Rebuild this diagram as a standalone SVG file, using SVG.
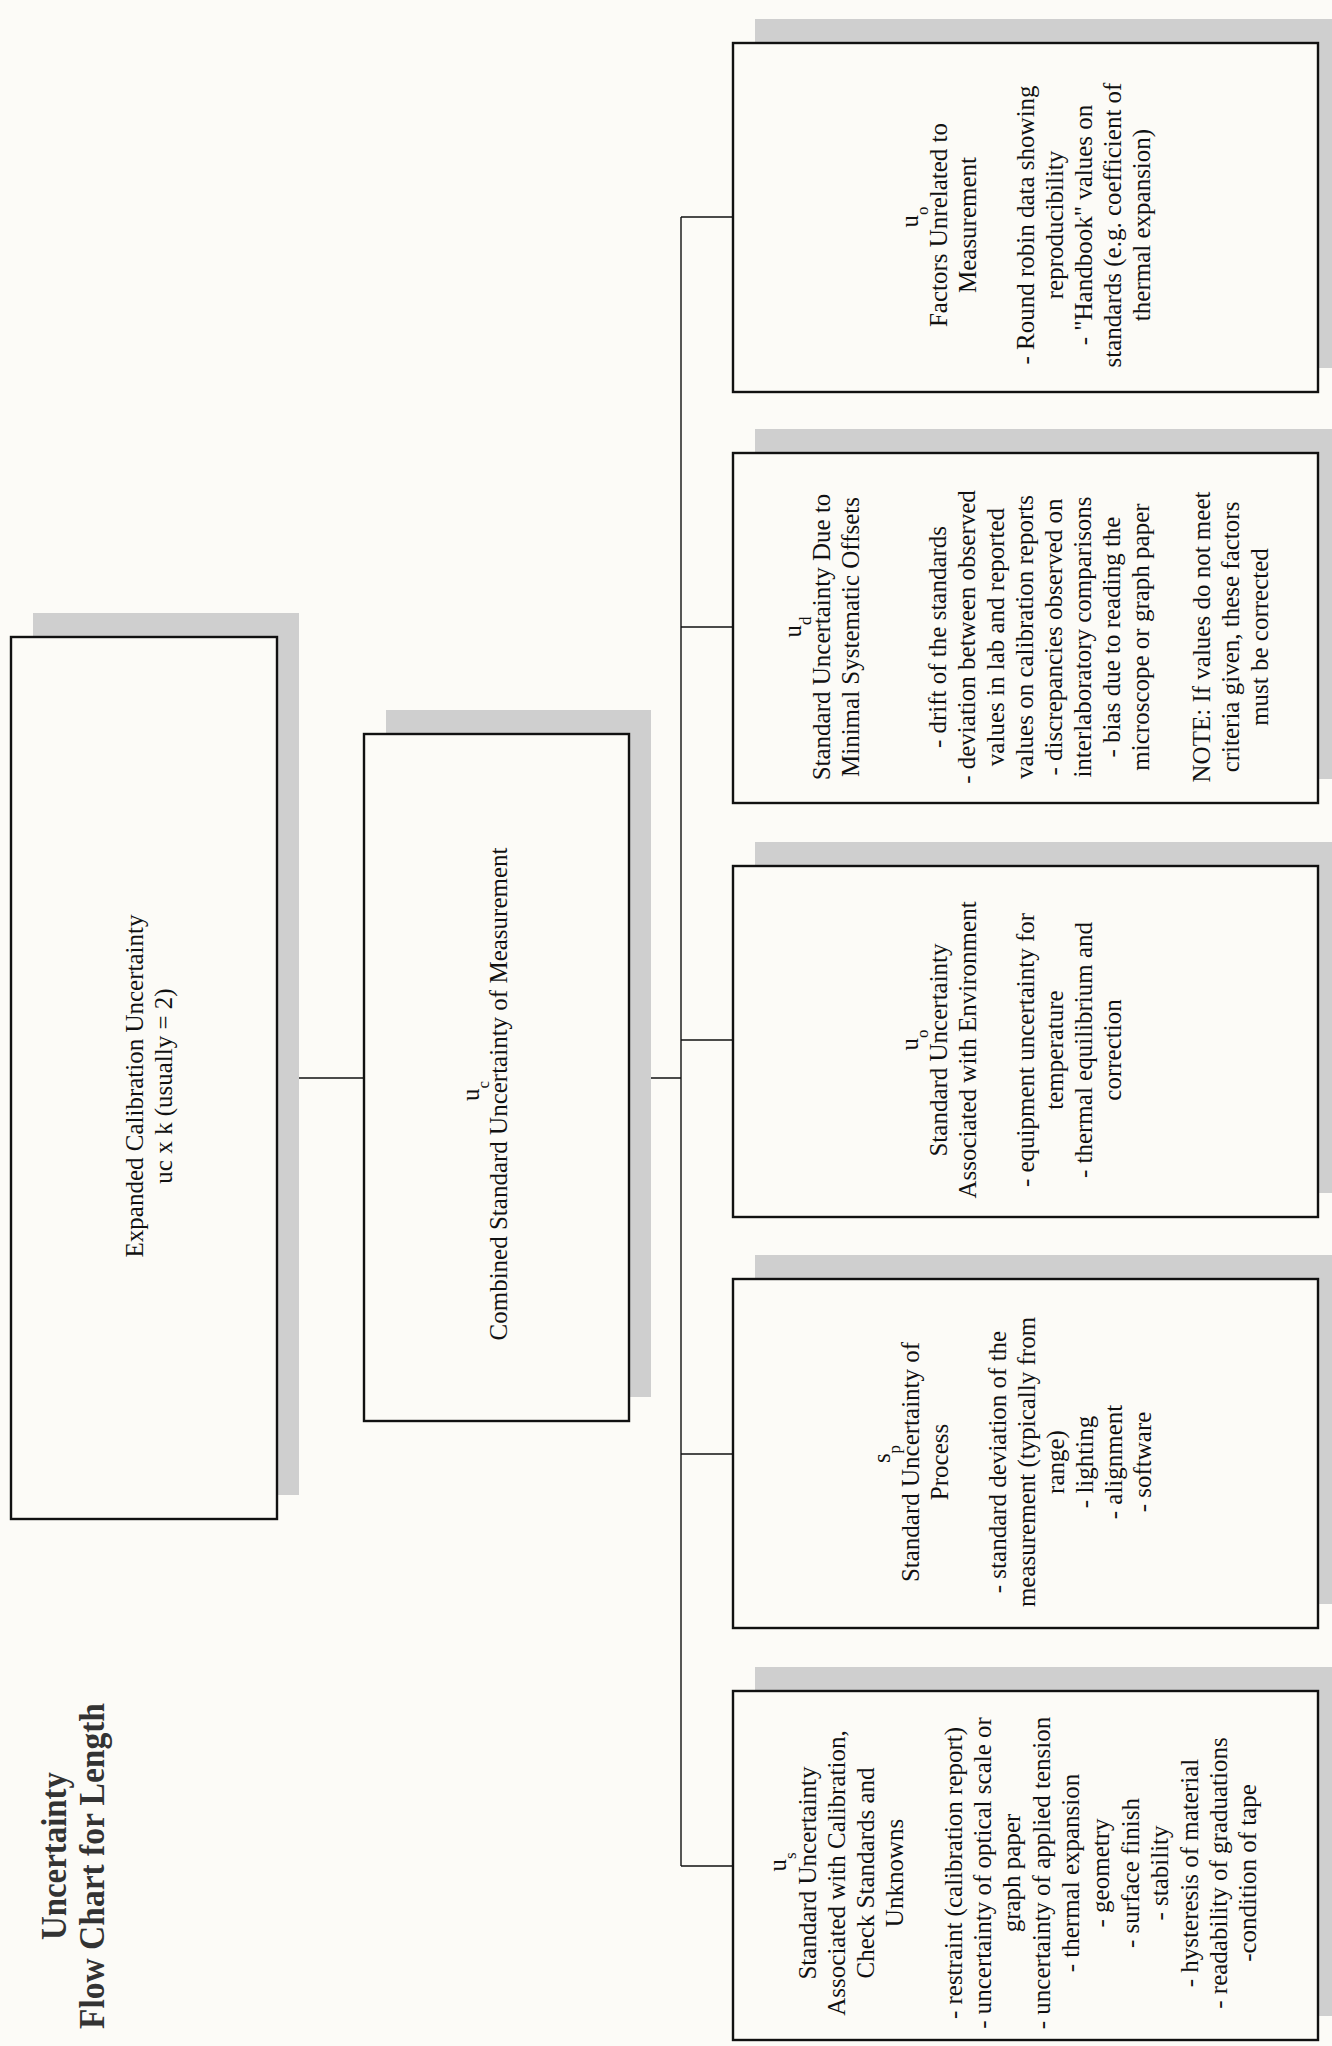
<svg xmlns="http://www.w3.org/2000/svg" width="1332" height="2046" viewBox="0 0 1332 2046">
<style>
.bg{fill:#fcfbf7}
.sh{fill:#cfcfcf}
.bx{fill:#fcfbf7;stroke:#111;stroke-width:2.4}
.t{font-family:"Liberation Serif","Times New Roman",serif;font-size:25px;fill:#111;text-anchor:middle}
.sub{font-size:17px}
.ttl{font-family:"Liberation Serif","Times New Roman",serif;font-weight:bold;font-size:36px;fill:#333;text-anchor:middle}
.cn{stroke:#111;stroke-width:1.4;fill:none}
</style>
<rect class="bg" x="0" y="0" width="1332" height="2046"/>

<g id="title">
<text class="ttl" transform="rotate(-90)"><tspan x="-1856" y="66" textLength="168" lengthAdjust="spacingAndGlyphs">Uncertainty</tspan><tspan x="-1866" y="104" textLength="326" lengthAdjust="spacingAndGlyphs">Flow Chart for Length</tspan></text>
</g>

<g id="connectors">
<path class="cn" d="M277 1078H364"/>
<path class="cn" d="M629 1078H681"/>
<path class="cn" d="M681 217V1866"/>
<path class="cn" d="M681 217H733"/>
<path class="cn" d="M681 627H733"/>
<path class="cn" d="M681 1040H733"/>
<path class="cn" d="M681 1454H733"/>
<path class="cn" d="M681 1866H733"/>
</g>

<g id="expanded">
<rect class="sh" x="33" y="613" width="266" height="882"/>
<rect class="bx" x="11" y="637" width="266" height="882"/>
<text class="t" transform="rotate(-90)"><tspan x="-1086" y="143">Expanded Calibration Uncertainty</tspan><tspan x="-1086" y="172">uc x k (usually = 2)</tspan></text>
</g>

<g id="combined">
<rect class="sh" x="386" y="710" width="265" height="687"/>
<rect class="bx" x="364" y="734" width="265" height="687"/>
<text class="t" transform="rotate(-90)"><tspan x="-1091" y="479">u<tspan class="sub" dy="10">c</tspan></tspan><tspan x="-1094" y="507">Combined Standard Uncertainty of Measurement</tspan></text>
</g>

<g id="factors">
<rect class="sh" x="755" y="19" width="600" height="349"/>
<rect class="bx" x="733" y="43" width="585" height="349"/>
<text class="t" transform="rotate(-90)"><tspan x="-217" y="918">u<tspan class="sub" dy="10">o</tspan></tspan><tspan x="-225" y="947">Factors Unrelated to</tspan><tspan x="-225" y="976">Measurement</tspan><tspan x="-225" y="1034">- Round robin data showing</tspan><tspan x="-225" y="1063">reproducibility</tspan><tspan x="-225" y="1092">- "Handbook" values on</tspan><tspan x="-225" y="1121">standards (e.g. coefficient of</tspan><tspan x="-225" y="1150">thermal expansion)</tspan></text>
</g>

<g id="offsets">
<rect class="sh" x="755" y="429" width="600" height="350"/>
<rect class="bx" x="733" y="453" width="585" height="350"/>
<text class="t" transform="rotate(-90)"><tspan x="-627" y="801">u<tspan class="sub" dy="10">d</tspan></tspan><tspan x="-637" y="830">Standard Uncertainty Due to</tspan><tspan x="-637" y="859">Minimal Systematic Offsets</tspan><tspan x="-637" y="946">- drift of the standards</tspan><tspan x="-637" y="975">- deviation between observed</tspan><tspan x="-637" y="1004">values in lab and reported</tspan><tspan x="-637" y="1033">values on calibration reports</tspan><tspan x="-637" y="1062">- discrepancies observed on</tspan><tspan x="-637" y="1091">interlaboratory comparisons</tspan><tspan x="-637" y="1120">- bias due to reading the</tspan><tspan x="-637" y="1149">microscope or graph paper</tspan><tspan x="-637" y="1210">NOTE:  If values do not meet</tspan><tspan x="-637" y="1239">criteria given, these factors</tspan><tspan x="-637" y="1268">must be corrected</tspan></text>
</g>

<g id="environment">
<rect class="sh" x="755" y="842" width="600" height="351"/>
<rect class="bx" x="733" y="866" width="585" height="351"/>
<text class="t" transform="rotate(-90)"><tspan x="-1040" y="918">u<tspan class="sub" dy="10">o</tspan></tspan><tspan x="-1050" y="947">Standard Uncertainty</tspan><tspan x="-1050" y="976">Associated with Environment</tspan><tspan x="-1050" y="1034">- equipment uncertainty for</tspan><tspan x="-1050" y="1063">temperature</tspan><tspan x="-1050" y="1092">- thermal equilibrium and</tspan><tspan x="-1050" y="1121">correction</tspan></text>
</g>

<g id="process">
<rect class="sh" x="755" y="1255" width="600" height="349"/>
<rect class="bx" x="733" y="1279" width="585" height="349"/>
<text class="t" transform="rotate(-90)"><tspan x="-1454" y="890">s<tspan class="sub" dy="10">p</tspan></tspan><tspan x="-1462" y="919">Standard Uncertainty of</tspan><tspan x="-1462" y="948">Process</tspan><tspan x="-1462" y="1006">- standard deviation of the</tspan><tspan x="-1462" y="1035">measurement (typically from</tspan><tspan x="-1462" y="1064">range)</tspan><tspan x="-1462" y="1093">- lighting</tspan><tspan x="-1462" y="1122">- alignment</tspan><tspan x="-1462" y="1151">- software</tspan></text>
</g>

<g id="calibration">
<rect class="sh" x="755" y="1667" width="600" height="349"/>
<rect class="bx" x="733" y="1691" width="585" height="349"/>
<text class="t" transform="rotate(-90)"><tspan x="-1862" y="786">u<tspan class="sub" dy="10">s</tspan></tspan><tspan x="-1873" y="816">Standard Uncertainty</tspan><tspan x="-1873" y="845">Associated with Calibration,</tspan><tspan x="-1873" y="874">Check Standards and</tspan><tspan x="-1873" y="903">Unknowns</tspan><tspan x="-1873" y="962">- restraint (calibration report)</tspan><tspan x="-1873" y="991">- uncertainty of optical scale or</tspan><tspan x="-1873" y="1020">graph paper</tspan><tspan x="-1873" y="1050">- uncertainty of applied tension</tspan><tspan x="-1873" y="1079">- thermal expansion</tspan><tspan x="-1873" y="1109">- geometry</tspan><tspan x="-1873" y="1139">- surface finish</tspan><tspan x="-1873" y="1168">- stability</tspan><tspan x="-1873" y="1198">- hysteresis of material</tspan><tspan x="-1873" y="1227">- readability of graduations</tspan><tspan x="-1873" y="1256">-condition of tape</tspan></text>
</g>
</svg>
